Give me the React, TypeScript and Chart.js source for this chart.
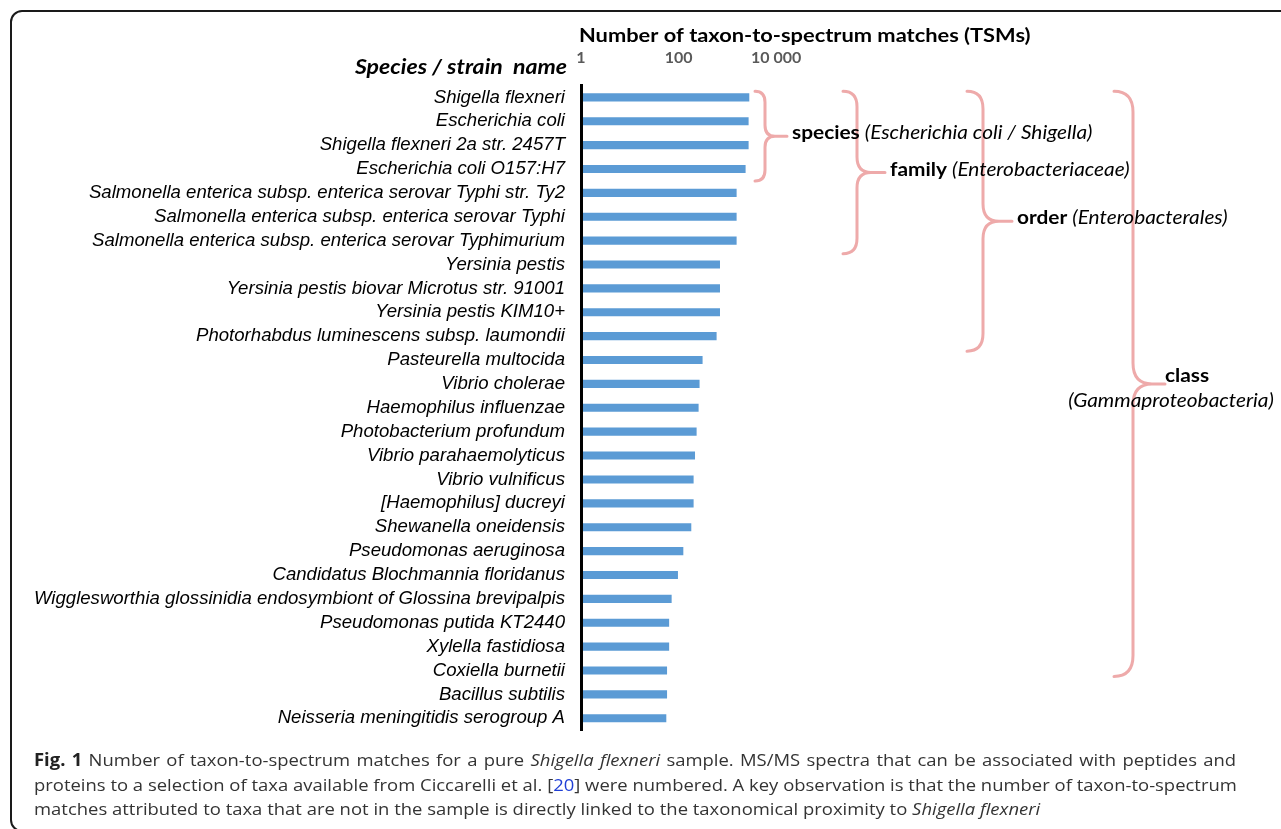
import React, { useEffect, useRef } from "react";
import { Chart, registerables } from "chart.js";

Chart.register(...registerables);

const speciesNames = [
  "Shigella flexneri",
  "Escherichia coli",
  "Shigella flexneri 2a str. 2457T",
  "Escherichia coli O157:H7",
  "Salmonella enterica subsp. enterica serovar Typhi str. Ty2",
  "Salmonella enterica subsp. enterica serovar Typhi",
  "Salmonella enterica subsp. enterica serovar Typhimurium",
  "Yersinia pestis",
  "Yersinia pestis biovar Microtus str. 91001",
  "Yersinia pestis KIM10+",
  "Photorhabdus luminescens subsp. laumondii",
  "Pasteurella multocida",
  "Vibrio cholerae",
  "Haemophilus influenzae",
  "Photobacterium profundum",
  "Vibrio parahaemolyticus",
  "Vibrio vulnificus",
  "[Haemophilus] ducreyi",
  "Shewanella oneidensis",
  "Pseudomonas aeruginosa",
  "Candidatus Blochmannia floridanus",
  "Wigglesworthia glossinidia endosymbiont of Glossina brevipalpis",
  "Pseudomonas putida KT2440",
  "Xylella fastidiosa",
  "Coxiella burnetii",
  "Bacillus subtilis",
  "Neisseria meningitidis serogroup A",
];

const tsmCounts = [
  2810, 2720, 2720, 2360, 1545, 1545, 1545, 705, 705, 705, 601, 310, 269, 257,
  234, 217, 203, 203, 182, 125, 97, 72, 64, 64, 58, 58, 56,
];

const tickValues = [1, 100, 10000];
const tickLabels = ["1", "100", "10 000"];

const groupRanks = ["species", "family", "order", "class"];
const groupTaxa = [
  "(Escherichia coli / Shigella)",
  "(Enterobacteriaceae)",
  "(Enterobacterales)",
  "(Gammaproteobacteria)",
];
const groupFirst = [
  "Shigella flexneri",
  "Shigella flexneri",
  "Shigella flexneri",
  "Shigella flexneri",
];
const groupLast = [
  "Escherichia coli O157:H7",
  "Salmonella enterica subsp. enterica serovar Typhimurium",
  "Photorhabdus luminescens subsp. laumondii",
  "Coxiella burnetii",
];

const axisTitle = "Number of taxon-to-spectrum matches (TSMs)";
const categoryTitle = "Species / strain  name";

// drawing geometry for the braces (x positions, bottom pad)
const braceGeom = [
  { xl: 755, xm: 765, xt: 787, bottomPad: 12 },
  { xl: 843, xm: 857, xt: 885, bottomPad: 13 },
  { xl: 967, xm: 983, xt: 1012, bottomPad: 15 },
  { xl: 1114, xm: 1133, xt: 1165, bottomPad: 6 },
];

const STRETCH = 1.11;

function drawBrace(
  ctx: CanvasRenderingContext2D,
  xl: number,
  xm: number,
  xt: number,
  yt: number,
  yb: number
) {
  const r = xm - xl;
  const yc = (yt + yb) / 2;
  const r2 = r * 1.1;
  ctx.beginPath();
  ctx.moveTo(xl, yt);
  ctx.quadraticCurveTo(xm, yt, xm, yt + r2);
  ctx.lineTo(xm, yc - r2);
  ctx.quadraticCurveTo(xm, yc, xm + r, yc);
  ctx.lineTo(xt, yc);
  ctx.moveTo(xm + r, yc);
  ctx.quadraticCurveTo(xm, yc, xm, yc + r2);
  ctx.lineTo(xm, yb - r2);
  ctx.quadraticCurveTo(xm, yb, xl, yb);
  ctx.stroke();
}

function stretchedText(
  ctx: CanvasRenderingContext2D,
  text: string,
  x: number,
  y: number,
  align: CanvasTextAlign,
  sx: number = STRETCH
) {
  ctx.save();
  ctx.translate(x, y);
  ctx.scale(sx, 1);
  ctx.textAlign = align;
  ctx.fillText(text, 0, 0);
  const w = ctx.measureText(text).width * sx;
  ctx.restore();
  return w;
}

const annotationPlugin = {
  id: "annotations",
  afterDraw(chart: any) {
    const ctx: CanvasRenderingContext2D = chart.ctx;
    const yScale = chart.scales.y;
    ctx.save();

    ctx.fillStyle = "#000";
    ctx.textBaseline = "middle";

    // axis title
    ctx.font = "bold 19.5px Lato";
    stretchedText(ctx, axisTitle, 579, 36, "left", 1.12);

    // category title
    ctx.font = "italic bold 21px Lato";
    stretchedText(ctx, categoryTitle, 567, 67, "right", 1.1);

    // braces
    ctx.strokeStyle = "#EEAAAA";
    ctx.lineWidth = 3;
    ctx.lineCap = "round";
    ctx.lineJoin = "round";
    const tipYs: number[] = [];
    for (let i = 0; i < groupRanks.length; i++) {
      const g = braceGeom[i];
      const first = speciesNames.indexOf(groupFirst[i]);
      const last = speciesNames.indexOf(groupLast[i]);
      const yt = yScale.getPixelForValue(first) - 6;
      const yb = yScale.getPixelForValue(last) + g.bottomPad;
      drawBrace(ctx, g.xl, g.xm, g.xt, yt, yb);
      tipYs.push((yt + yb) / 2);
    }

    // brace labels
    ctx.fillStyle = "#000";
    for (let i = 0; i < 3; i++) {
      const g = braceGeom[i];
      const x = g.xt + 5;
      const y = tipYs[i] - 3;
      ctx.font = "bold 18.8px Lato";
      const w = stretchedText(ctx, groupRanks[i] + " ", x, y, "left");
      ctx.font = "italic 18.8px Lato";
      stretchedText(ctx, groupTaxa[i], x + w, y, "left");
    }
    // class label (two lines)
    ctx.font = "bold 18.8px Lato";
    stretchedText(ctx, groupRanks[3], braceGeom[3].xt, tipYs[3] - 8, "left");
    ctx.font = "italic 18.8px Lato";
    stretchedText(ctx, groupTaxa[3], 1171, tipYs[3] + 17, "center");

    ctx.restore();
  },
};

const justified: React.CSSProperties = {
  textAlign: "justify",
  textAlignLast: "justify",
};

export default function App() {
  const canvasRef = useRef<HTMLCanvasElement | null>(null);

  useEffect(() => {
    if (!canvasRef.current) return;
    const chart = new Chart(canvasRef.current, {
      type: "bar",
      data: {
        labels: speciesNames,
        datasets: [
          {
            data: tsmCounts,
            backgroundColor: "#5B9BD5",
            borderWidth: 0,
            barPercentage: 0.34,
            categoryPercentage: 1,
          },
        ],
      },
      options: {
        indexAxis: "y",
        animation: false,
        responsive: false,
        events: [],
        layout: { padding: { left: 0, right: 114.4, top: 0, bottom: 98.8 } },
        plugins: {
          legend: { display: false },
          title: { display: false },
          tooltip: { enabled: false },
        },
        scales: {
          x: {
            type: "logarithmic",
            position: "top",
            min: 1,
            max: 1e12,
            grid: { display: false, drawTicks: false },
            border: { display: false },
            afterBuildTicks: (scale: any) => {
              scale.ticks = tickValues.map((v) => ({ value: v }));
            },
            afterFit: (scale: any) => {
              scale.height = 85.4;
            },
            ticks: {
              autoSkip: false,
              maxRotation: 0,
              padding: 18,
              color: "#595959",
              font: { family: "Lato", size: 16, weight: "bold" },
              callback: (value: any) => {
                const i = tickValues.indexOf(Number(value));
                return i >= 0 ? tickLabels[i] : "";
              },
            },
          },
          y: {
            type: "category",
            grid: { display: false, drawTicks: false },
            border: { display: true, color: "#000", width: 3, z: 1 },
            afterFit: (scale: any) => {
              scale.width = 581;
            },
            ticks: {
              autoSkip: false,
              padding: 16,
              color: "#000",
              font: { family: "Liberation Sans", size: 18.6, style: "italic" },
            },
          },
        },
      },
      plugins: [annotationPlugin],
    } as any);
    return () => chart.destroy();
  }, []);

  return (
    <div
      style={{
        position: "absolute",
        left: 0,
        top: 0,
        width: 1281,
        height: 829,
        overflow: "hidden",
        background: "#fff",
      }}
    >
      <div
        style={{
          position: "absolute",
          left: 10,
          top: 10,
          width: 1320,
          height: 822,
          border: "2px solid #1a1a1a",
          borderRadius: 12,
          boxSizing: "border-box",
        }}
      />
      <canvas
        ref={canvasRef}
        width={1281}
        height={829}
        style={{ position: "absolute", left: 0, top: 0 }}
      />
      <div
        style={{
          position: "absolute",
          left: 34,
          top: 748,
          width: 1108,
          fontFamily: "'Open Sans', sans-serif",
          fontSize: 17,
          lineHeight: "24.5px",
          color: "#333",
          whiteSpace: "nowrap",
          transform: "scaleX(1.085)",
          transformOrigin: "left top",
        }}
      >
        <div style={justified}>
          <b style={{ color: "#222" }}>Fig. 1</b> Number of taxon-to-spectrum
          matches for a pure <i>Shigella flexneri</i> sample. MS/MS spectra that
          can be associated with peptides and
        </div>
        <div style={justified}>
          proteins to a selection of taxa available from Ciccarelli et al. [
          <span style={{ color: "#1f3fd6" }}>20</span>] were numbered. A key
          observation is that the number of taxon-to-spectrum
        </div>
        <div>
          matches attributed to taxa that are not in the sample is directly
          linked to the taxonomical proximity to <i>Shigella flexneri</i>
        </div>
      </div>
    </div>
  );
}
